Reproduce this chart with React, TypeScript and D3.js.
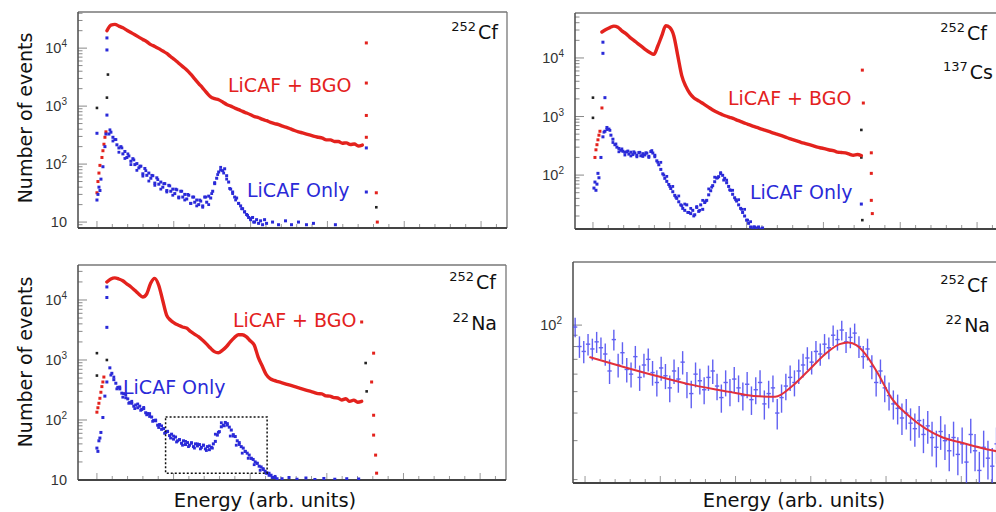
import React from "react";
import * as d3 from "d3";

type P = [number, number];

// ---------------- data ----------------
// Panel 1: 252Cf
const RED1_START = 29, RED1_STEP = 4;
const RED1 = [20000, 25000, 25700, 24000, 22400, 20400, 18600, 17000, 15500, 14100, 12900, 11500, 10700, 9800, 8900, 8100, 7100, 6300, 5500, 4800, 4200, 3550, 2950, 2450, 2050, 1700, 1450, 1350, 1290, 1180, 1070, 1000, 930, 870, 810, 760, 710, 660, 630, 590, 560, 525, 500, 480, 450, 430, 405, 380, 360, 345, 330, 315, 300, 290, 280, 262, 262, 245, 245, 229, 232, 218, 222, 205, 213];
const RED1_RISE: P[] = [[19, 32], [20, 50], [21, 70], [22, 95], [24, 130], [25, 170], [26, 220], [27, 290], [28, 360]];
const RED1_EDGE: P[] = [[289, 12300], [289, 2500], [289, 690], [289, 290], [299, 32], [300, 10]];
const BLUE1_START = 31, BLUE1_STEP = 2;
const BLUE1 = [330, 355, 290, 265, 215, 190, 200, 150, 165, 130, 138, 112, 124, 98, 102, 86, 92, 68, 84, 64, 70, 57, 63, 47, 58, 45, 49, 40, 46, 35, 43, 34, 37, 31, 36, 27, 34, 27, 30, 25, 29, 21, 27, 22, 24, 20, 23, 19, 27, 22, 28, 26, 34, 46, 57, 73, 79, 77, 83, 63, 49, 37, 33, 27, 26, 21, 19, 17, 15, 13.5, 12, 11, 12, 10, 11, 9.5, 10.5, 9, 11, 9.5];
const BLUE1B_START = 32, BLUE1B_STEP = 3;
const BLUE1B = [390, 250, 265, 160, 190, 125, 150, 98, 118, 78, 92, 62, 77, 51, 64, 43, 54, 37, 46, 33, 42, 29, 37, 26, 34, 24, 30, 21, 27, 19, 24, 18, 27, 20, 31, 48, 66, 88, 70, 55, 38, 31, 24, 21, 17, 15, 13, 11.5, 10];
const BLUE1_RISE: P[] = [[19, 24], [20, 30], [21, 40], [22, 35], [23, 55], [25, 90], [27, 200], [28, 330]];
const BLUE1_TAIL: P[] = [[195, 10], [201, 9], [208, 10.5], [214, 9], [221, 10], [229, 9], [236, 9.5], [258, 9]];
const BLUE1_EDGE: P[] = [[29, 15000], [29, 9300], [29, 700], [19, 340], [289, 190], [289, 33]];
const BLACK1_EDGE: P[] = [[19, 930], [29, 1400], [30, 3500], [299, 18]];

// Panel 2: 252Cf + 137Cs
const RED2_START = 27, RED2_STEP = 4;
const RED2 = [27700, 30500, 33000, 35000, 33500, 29000, 26000, 22500, 20000, 17600, 15600, 13800, 12400, 11500, 16000, 24000, 35500, 33000, 24000, 11000, 5000, 3300, 2500, 2100, 1900, 1720, 1550, 1400, 1270, 1170, 1090, 1020, 970, 920, 860, 810, 760, 720, 680, 645, 610, 580, 550, 520, 495, 470, 445, 420, 400, 380, 360, 345, 330, 315, 300, 290, 280, 268, 262, 246, 243, 240, 228, 218, 224, 215];
const RED2_RISE: P[] = [[20, 200], [21, 270], [22, 330], [23, 400], [24, 480], [25, 560], [27, 1400]];
const RED2_EDGE: P[] = [[288, 6200], [289, 1700], [297, 240], [297, 107], [297, 37], [298, 22]];
const BLUE2_START = 28, BLUE2_STEP = 2;
const BLUE2 = [450, 560, 650, 610, 480, 410, 330, 300, 285, 265, 255, 245, 250, 228, 246, 224, 238, 218, 242, 214, 232, 221, 237, 209, 252, 238, 218, 175, 150, 125, 105, 88, 78, 69, 59, 52, 45, 40, 35, 31, 27, 25, 31, 23, 22, 25, 21, 28, 24, 31, 26, 34, 37, 46, 54, 66, 77, 89, 94, 106, 99, 88, 74, 64, 55, 47, 41, 36, 31, 27, 23, 20, 17, 15, 13, 12, 13, 12.5, 13, 12, 12.5];
const BLUE2B_START = 29, BLUE2B_STEP = 3;
const BLUE2B = [540, 600, 580, 360, 340, 250, 280, 220, 258, 212, 250, 205, 245, 208, 240, 200, 262, 205, 165, 165, 100, 95, 64, 64, 42, 44, 30, 32, 23, 27, 20, 29, 25, 37, 36, 58, 62, 92, 90, 110, 82, 82, 56, 55, 38, 38, 26, 26, 17, 16, 13];
const BLUE2_RISE: P[] = [[19, 60], [20, 76], [21, 55], [22, 70], [23, 107], [24, 90], [26, 200]];
const BLUE2_EDGE: P[] = [[28, 18600], [28, 12000], [30, 2100], [287, 32]];
const BLACK2_EDGE: P[] = [[18, 2100], [18, 950], [287, 590], [287, 200], [288, 17]];

// Panel 3: 252Cf + 22Na
const RED3_START = 29, RED3_STEP = 4;
const RED3 = [20000, 22400, 23400, 22400, 20900, 18600, 16600, 14500, 12600, 11200, 12600, 19000, 22900, 17800, 10000, 5600, 4600, 4100, 3800, 3550, 3400, 3000, 2700, 2450, 2150, 1860, 1580, 1380, 1320, 1450, 1660, 2000, 2350, 2630, 2630, 2450, 2090, 1780, 1120, 800, 575, 490, 457, 436, 417, 398, 380, 363, 347, 331, 316, 302, 288, 275, 272, 252, 250, 236, 233, 215, 226, 204, 214, 198, 205];
const RED3_RISE: P[] = [[19, 135], [20, 160], [21, 190], [22, 230], [23, 290], [24, 360], [25, 430], [26, 520]];
const RED3_EDGE: P[] = [[285, 4300], [297, 1300], [295, 430], [297, 120], [297, 56], [299, 26], [300, 13]];
const BLUE3_START = 32, BLUE3_STEP = 2;
const BLUE3 = [740, 600, 470, 410, 350, 330, 280, 275, 235, 225, 195, 190, 170, 178, 160, 170, 150, 155, 132, 128, 115, 112, 98, 97, 82, 84, 70, 72, 62, 64, 55, 58, 48, 52, 45, 47, 41, 45, 39, 42, 38, 41, 36, 40, 37, 39, 35, 38, 33, 36, 32, 35, 40, 44, 56, 64, 77, 82, 91, 87, 76, 68, 57, 53, 45, 42, 36, 34, 30, 28, 26, 23, 22, 20, 19, 17, 16.5, 15, 14, 13, 12, 12, 11, 11, 10.5];
const BLUE3B_START = 33, BLUE3B_STEP = 3;
const BLUE3B = [560, 520, 330, 355, 240, 265, 190, 205, 155, 185, 145, 162, 122, 128, 95, 100, 75, 80, 60, 65, 50, 54, 43, 47, 38, 44, 36, 42, 34, 40, 33, 38, 31, 37, 34, 58, 62, 90, 80, 82, 54, 54, 38, 39, 28, 30, 23, 23, 18, 19, 14.5, 15.5, 13, 13, 11, 11.5];
const BLUE3_RISE: P[] = [[19, 34], [20, 30], [21, 45], [22, 50], [23, 62], [25, 110], [27, 250], [29, 430]];
const BLUE3_TAIL: P[] = [[205, 10.5], [212, 11], [220, 10.3], [229, 10.8], [238, 10.2], [247, 10.6], [258, 10.3], [270, 10.5], [282, 10.4]];
const BLUE3_EDGE: P[] = [[29, 16500], [29, 11000], [29, 3500]];
const BLACK3_EDGE: P[] = [[19, 1300], [19, 550], [29, 1000], [289, 890], [290, 300]];
const BOX3_X = [88, 190];
const BOX3_Y = [13, 112];

// Panel 4: zoomed LiCAF-only spectrum with fit
const DATA4 = [98, 80, 76, 82, 78, 84, 79, 74, 62, 86, 66, 75, 63, 60, 72, 58, 66, 70, 61, 55, 64, 59, 52, 62, 57, 68, 54, 49, 60, 56, 51, 58, 62, 53, 47, 55, 50, 57, 52, 48, 54, 46, 51, 55, 44, 49, 52, 40, 47, 53, 58, 55, 62, 66, 71, 68, 76, 74, 82, 79, 90, 86, 95, 84, 88, 92, 80, 72, 78, 65, 55, 62, 52, 48, 44, 42, 38, 40, 36, 34, 37, 32, 35, 31, 28, 33, 30, 27, 31, 26, 29, 24, 32, 27, 22, 28, 25, 23, 29, 26];
const FIT4: P[] = [[4, 71.5], [12, 64.5], [20, 58.5], [28, 53.5], [36, 50], [42, 47.8], [47, 47.4], [51, 53], [55, 63], [59, 75], [62, 82], [64, 83.5], [66, 81], [68, 74], [71, 60], [74, 47], [78, 39], [82, 34], [86, 31], [90, 29.5], [95, 27.8], [100, 26.5]];

// ---------------- styles ----------------
const RED = "#e3221d";
const BLUE = "#2a2ad8";
const FONT = "'DejaVu Sans', Verdana, sans-serif";
const TICKFONT = "'Liberation Sans', Arial, sans-serif";

const series = (start: number, step: number, vals: number[]): P[] => vals.map((v, i) => [start + i * step, v]);

interface Cfg {
  id: string; left: number; top: number; width: number; height: number;
  yMin: number; yMax: number; xMax: number; decades: number[]; xTickStart: number; xTickStep: number; majorEvery: number;
}

const P1: Cfg = { id: "p1", left: 78, top: 12, width: 429, height: 216, yMin: 7.9, yMax: 42000, xMax: 430, decades: [1, 2, 3, 4], xTickStart: 19, xTickStep: 15.4, majorEvery: 5 };
const P2: Cfg = { id: "p2", left: 575, top: 13, width: 429, height: 216, yMin: 12, yMax: 58600, xMax: 430, decades: [2, 3, 4], xTickStart: 18, xTickStep: 15.4, majorEvery: 5 };
const P3: Cfg = { id: "p3", left: 78, top: 265, width: 428, height: 215, yMin: 10, yMax: 38300, xMax: 430, decades: [1, 2, 3, 4], xTickStart: 19, xTickStep: 15.4, majorEvery: 5 };
const P4: Cfg = { id: "p4", left: 573, top: 262, width: 430, height: 221, yMin: 19.3, yMax: 193, xMax: 100, decades: [2], xTickStart: 2.8, xTickStep: 3.5, majorEvery: 5 };

function scales(c: Cfg) {
  const x = d3.scaleLinear().domain([0, c.xMax]).range([c.left, c.left + c.width]);
  const y = d3.scaleLog().domain([c.yMin, c.yMax]).range([c.top + c.height, c.top]);
  return { x, y };
}

function Frame({ c }: { c: Cfg }) {
  const { x, y } = scales(c);
  const bottom = c.top + c.height;
  const right = c.left + c.width;
  const yt: { v: number; major: boolean }[] = [];
  const k0 = Math.floor(Math.log10(c.yMin)), k1 = Math.ceil(Math.log10(c.yMax));
  for (let k = k0; k <= k1; k++) for (let m = 1; m <= 9; m++) {
    const v = m * Math.pow(10, k);
    if (v >= c.yMin && v <= c.yMax) yt.push({ v, major: m === 1 });
  }
  const xt: { v: number; major: boolean }[] = [];
  for (let i = 0; ; i++) {
    const v = c.xTickStart + i * c.xTickStep;
    if (v > c.xMax) break;
    xt.push({ v, major: i % c.majorEvery === 0 });
  }
  return (
    <g>
      <line x1={c.left} x2={right} y1={c.top} y2={c.top} stroke="#777" strokeWidth={1.3} />
      <line x1={right} x2={right} y1={c.top} y2={bottom} stroke="#777" strokeWidth={1.3} />
      {yt.map((t, i) => (
        <line key={"y" + i} x1={c.left} x2={c.left + (t.major ? 9 : 4.5)} y1={y(t.v)} y2={y(t.v)} stroke="#888" strokeWidth={1} />
      ))}
      {xt.map((t, i) => (
        <line key={"x" + i} x1={x(t.v)} x2={x(t.v)} y1={bottom} y2={bottom - (t.major ? 7 : 4)} stroke="#999" strokeWidth={1} />
      ))}
      <line x1={c.left} x2={c.left} y1={c.top} y2={bottom} stroke="#555" strokeWidth={1.6} />
      <line x1={c.left} x2={right} y1={bottom} y2={bottom} stroke="#444" strokeWidth={1.8} />
      {c.decades.map((k) => (
        <text key={"l" + k} x={c.left - 11} y={y(Math.pow(10, k)) + 5} textAnchor="end" fontFamily={TICKFONT} fontSize={14.5} fill="#333">
          10{k > 1 ? <tspan dy={-6} fontSize={10}>{k}</tspan> : null}
        </text>
      ))}
    </g>
  );
}

function Dots({ c, pts, color, size }: { c: Cfg; pts: P[]; color: string; size: number }) {
  const { x, y } = scales(c);
  return (
    <g clipPath={`url(#clip-${c.id})`}>
      {pts.map((p, i) => (
        <rect key={i} x={x(p[0]) - size / 2} y={y(p[1]) - size / 2} width={size} height={size} fill={color} />
      ))}
    </g>
  );
}

function Curve({ c, pts, color, width }: { c: Cfg; pts: P[]; color: string; width: number }) {
  const { x, y } = scales(c);
  const line = d3.line<P>().x((d) => x(d[0])).y((d) => y(d[1])).curve(d3.curveMonotoneX);
  return <path clipPath={`url(#clip-${c.id})`} d={line(pts) || ""} fill="none" stroke={color} strokeWidth={width} strokeLinejoin="round" strokeLinecap="round" />;
}

function Iso({ x, y, mass, el }: { x: number; y: number; mass: string; el: string }) {
  return (
    <text x={x} y={y} textAnchor="end" fontFamily={FONT} fill="#111">
      <tspan fontSize={13} dy={-8}>{mass}</tspan>
      <tspan fontSize={19} dy={8} dx={2}>{el}</tspan>
    </text>
  );
}

function Spectrum({ c, red, redRise, redEdge, blue, blueB, blueRise, blueTail, blueEdge, blackEdge }: {
  c: Cfg; red: P[]; redRise: P[]; redEdge: P[]; blue: P[]; blueB: P[]; blueRise: P[]; blueTail: P[]; blueEdge: P[]; blackEdge: P[];
}) {
  return (
    <g>
      <Frame c={c} />
      <Dots c={c} pts={blackEdge} color="#222" size={2.6} />
      <Dots c={c} pts={blueEdge} color={BLUE} size={3} />
      <Dots c={c} pts={redRise} color={RED} size={3} />
      <Dots c={c} pts={redEdge} color={RED} size={3} />
      <Curve c={c} pts={red} color={RED} width={3.4} />
      <Dots c={c} pts={blueRise} color={BLUE} size={3} />
      <Dots c={c} pts={blue} color={BLUE} size={3} />
      <Dots c={c} pts={blueB} color={BLUE} size={2.8} />
      <Dots c={c} pts={blueTail} color={BLUE} size={3} />
    </g>
  );
}

function Zoomed({ c }: { c: Cfg }) {
  const { x, y } = scales(c);
  return (
    <g>
      <Frame c={c} />
      <g clipPath={`url(#clip-${c.id})`} stroke="#4646f0" strokeWidth={1.4} opacity={0.85}>
        {DATA4.map((v, i) => {
          const e = Math.sqrt(v);
          const cx = x(i + 0.5);
          return (
            <g key={i}>
              <line x1={cx} x2={cx} y1={y(v + e)} y2={y(v - e)} />
              <line x1={x(i)} x2={x(i + 1)} y1={y(v)} y2={y(v)} />
            </g>
          );
        })}
      </g>
      <Curve c={c} pts={FIT4} color="#e2303c" width={2} />
    </g>
  );
}

export default function App() {
  const s3 = scales(P3);
  return (
    <svg width={996} height={512} viewBox="0 0 996 512" style={{ position: "absolute", left: 0, top: 0, background: "#fff" }}>
      <defs>
        {[P1, P2, P3, P4].map((c) => (
          <clipPath key={c.id} id={`clip-${c.id}`}>
            <rect x={c.left} y={c.top} width={c.width} height={c.height} />
          </clipPath>
        ))}
      </defs>
      <rect width={996} height={512} fill="#fff" />

      <Spectrum c={P1} red={series(RED1_START, RED1_STEP, RED1)} redRise={RED1_RISE} redEdge={RED1_EDGE}
        blue={series(BLUE1_START, BLUE1_STEP, BLUE1)} blueB={series(BLUE1B_START, BLUE1B_STEP, BLUE1B)}
        blueRise={BLUE1_RISE} blueTail={BLUE1_TAIL} blueEdge={BLUE1_EDGE} blackEdge={BLACK1_EDGE} />
      <Spectrum c={P2} red={series(RED2_START, RED2_STEP, RED2)} redRise={RED2_RISE} redEdge={RED2_EDGE}
        blue={series(BLUE2_START, BLUE2_STEP, BLUE2)} blueB={series(BLUE2B_START, BLUE2B_STEP, BLUE2B)}
        blueRise={BLUE2_RISE} blueTail={[]} blueEdge={BLUE2_EDGE} blackEdge={BLACK2_EDGE} />
      <Spectrum c={P3} red={series(RED3_START, RED3_STEP, RED3)} redRise={RED3_RISE} redEdge={RED3_EDGE}
        blue={series(BLUE3_START, BLUE3_STEP, BLUE3)} blueB={series(BLUE3B_START, BLUE3B_STEP, BLUE3B)}
        blueRise={BLUE3_RISE} blueTail={BLUE3_TAIL} blueEdge={BLUE3_EDGE} blackEdge={BLACK3_EDGE} />
      <rect x={s3.x(BOX3_X[0])} y={s3.y(BOX3_Y[1])} width={s3.x(BOX3_X[1]) - s3.x(BOX3_X[0])} height={s3.y(BOX3_Y[0]) - s3.y(BOX3_Y[1])}
        fill="none" stroke="#111" strokeWidth={1.5} strokeDasharray="2 2" />
      <Zoomed c={P4} />

      {/* axis titles */}
      <text transform="translate(32,118) rotate(-90)" textAnchor="middle" fontFamily={FONT} fontSize={19} fill="#111">Number of events</text>
      <text transform="translate(32,362) rotate(-90)" textAnchor="middle" fontFamily={FONT} fontSize={19} fill="#111">Number of events</text>
      <text x={265} y={507} textAnchor="middle" fontFamily={FONT} fontSize={19.5} fill="#111">Energy (arb. units)</text>
      <text x={794} y={507} textAnchor="middle" fontFamily={FONT} fontSize={19.5} fill="#111">Energy (arb. units)</text>

      {/* series labels */}
      <text x={228} y={92} fontFamily={FONT} fontSize={19} fill={RED}>LiCAF + BGO</text>
      <text x={247} y={197} fontFamily={FONT} fontSize={19} fill={BLUE}>LiCAF Only</text>
      <text x={728} y={105} fontFamily={FONT} fontSize={19} fill={RED}>LiCAF + BGO</text>
      <text x={750} y={199} fontFamily={FONT} fontSize={19} fill={BLUE}>LiCAF Only</text>
      <text x={233} y={327} fontFamily={FONT} fontSize={19} fill={RED}>LiCAF + BGO</text>
      <text x={123} y={394} fontFamily={FONT} fontSize={19} fill={BLUE}>LiCAF Only</text>

      {/* source labels */}
      <Iso x={498} y={39} mass="252" el="Cf" />
      <Iso x={987} y={40} mass="252" el="Cf" />
      <Iso x={993} y={79} mass="137" el="Cs" />
      <Iso x={496} y={289} mass="252" el="Cf" />
      <Iso x={497} y={330} mass="22" el="Na" />
      <Iso x={987} y={292} mass="252" el="Cf" />
      <Iso x={990} y={332} mass="22" el="Na" />
    </svg>
  );
}
